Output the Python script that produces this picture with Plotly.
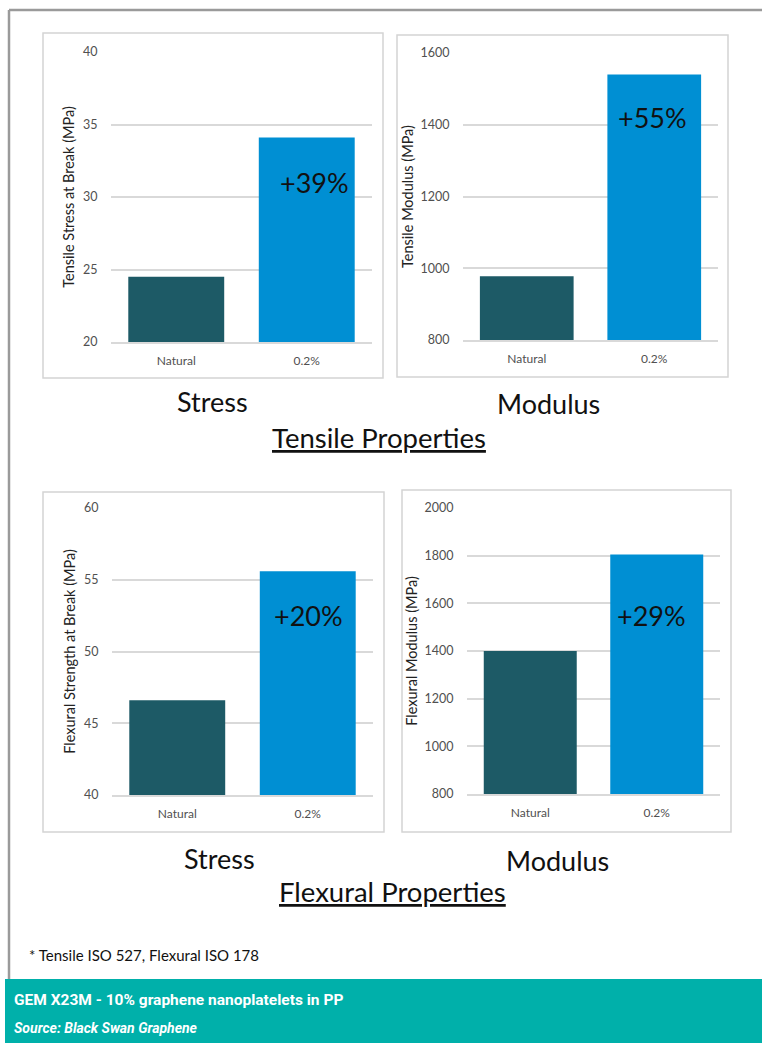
import plotly.graph_objects as go

W, H = 762, 1043

# ---- data ----
categories = ["Natural", "0.2%"]
tensile_stress = [24.5, 34.1]       # MPa
tensile_modulus = [978, 1540]       # MPa
flexural_strength = [46.6, 55.6]    # MPa
flexural_modulus = [1400, 1805]     # MPa
gain_labels = ["+39%", "+55%", "+20%", "+29%"]
gain_label_y = [31.0, 1421, 52.5, 1551]
y_titles = ["Tensile Stress at Break (MPa)", "Tensile Modulus (MPa)",
            "Flexural Strength at Break (MPa)", "Flexural Modulus (MPa)"]
y_ranges = [[20, 40], [800, 1600], [40, 60], [800, 2000]]
y_dticks = [5, 200, 5, 200]
panel_names = ["Stress", "Modulus", "Stress", "Modulus"]

DARK = "#1d5a66"
BLUE = "#008fd3"
TEAL = "#00b0aa"
GRID = "#d9d9d9"
FONT = "Lato, Open Sans, sans-serif"
FOOT = "Roboto, Lato, sans-serif"


def px(x):
    return x / W


def py(y):
    return 1 - y / H


# plot areas (left, right, top, bottom) in pixels
areas = [(111, 372, 52, 342), (463, 718, 53, 340),
         (112, 373, 508, 795), (467, 720, 508, 794)]
# panel frames (left, right, top, bottom)
frames = [(43, 383, 33, 378), (397, 728, 35, 377),
          (43, 384, 492, 832), (402, 731, 490, 832)]
name_pos = [(212, 401), (548, 403), (219, 858), (557, 860)]
label_xshift = [8, -2, 1, -5]
title_standoff = [4, 3, 4, 3]

series = [tensile_stress, tensile_modulus, flexural_strength, flexural_modulus]

fig = go.Figure()
layout = dict(width=W, height=H, autosize=False,
              margin=dict(l=0, r=0, t=0, b=0, pad=0),
              paper_bgcolor="white", plot_bgcolor="white", showlegend=False,
              bargap=0.265, shapes=[], annotations=[])

for i in range(4):
    xa = "x" if i == 0 else f"x{i+1}"
    ya = "y" if i == 0 else f"y{i+1}"
    fig.add_trace(go.Bar(x=categories, y=series[i], xaxis=xa, yaxis=ya,
                         marker=dict(color=[DARK, BLUE], line=dict(width=0)),
                         hoverinfo="skip"))
    l, r, t, b = areas[i]
    key = "" if i == 0 else str(i + 1)
    layout["xaxis" + key] = dict(
        domain=[px(l), px(r)], anchor=ya, automargin=False,
        showgrid=False, showline=True, linecolor=GRID, linewidth=1.5,
        ticks="outside", ticklen=7, tickcolor="rgba(0,0,0,0)",
        tickfont=dict(family=FONT, size=12, color="#505050"),
        fixedrange=True, range=[-0.5, 1.5])
    layout["yaxis" + key] = dict(
        domain=[py(b), py(t)], anchor=xa, automargin=False,
        range=y_ranges[i], dtick=y_dticks[i], tick0=y_ranges[i][0],
        showgrid=True, gridcolor=GRID, gridwidth=1.5, zeroline=False,
        showline=False, ticks="outside", ticklen=10, tickcolor="rgba(0,0,0,0)",
        tickfont=dict(family=FONT, size=12.5, color="#505050"),
        title=dict(text=y_titles[i], standoff=title_standoff[i],
                   font=dict(family=FONT, size=14.5, color="#222222")),
        fixedrange=True)
    # panel frame
    fl, fr, ft, fb = frames[i]
    layout["shapes"].append(dict(type="rect", xref="paper", yref="paper",
                                 x0=px(fl), x1=px(fr), y0=py(fb), y1=py(ft),
                                 line=dict(color="#d4d4d4", width=1.5)))
    # percentage gain label inside the 0.2% bar
    layout["annotations"].append(dict(
        x=1, y=gain_label_y[i], xref=xa, yref=ya, text=gain_labels[i],
        showarrow=False, xanchor="center", yanchor="middle",
        xshift=label_xshift[i],
        font=dict(family=FONT, size=27, color="#111111")))
    # panel caption
    nx, ny = name_pos[i]
    layout["annotations"].append(dict(
        x=px(nx), y=py(ny), xref="paper", yref="paper", text=panel_names[i],
        showarrow=False, xanchor="center", yanchor="middle",
        font=dict(family=FONT, size=27, color="#111111")))

# group headings
for text, cx, cy in [("<u>Tensile Properties</u>", 379, 437),
                     ("<u>Flexural Properties</u>", 392, 891)]:
    layout["annotations"].append(dict(
        x=px(cx), y=py(cy), xref="paper", yref="paper", text=text,
        showarrow=False, xanchor="center", yanchor="middle",
        font=dict(family=FONT, size=27.5, color="#111111")))

# footnote
layout["annotations"].append(dict(
    x=px(27), y=py(955), xref="paper", yref="paper",
    text="* Tensile ISO 527, Flexural ISO 178", showarrow=False,
    xanchor="left", yanchor="middle",
    font=dict(family=FONT, size=15, color="#111111")))

# outer grey frame
layout["shapes"].append(dict(type="line", xref="paper", yref="paper",
                             x0=px(9), x1=1, y0=py(10), y1=py(10),
                             line=dict(color="#9a9a9a", width=2.5)))
layout["shapes"].append(dict(type="line", xref="paper", yref="paper",
                             x0=px(9), x1=px(9), y0=py(979), y1=py(10),
                             line=dict(color="#9a9a9a", width=2.5)))

# caption band
layout["shapes"].append(dict(type="rect", xref="paper", yref="paper",
                             x0=px(5), x1=1, y0=0, y1=py(979),
                             fillcolor=TEAL, line=dict(width=0), layer="below"))
layout["annotations"].append(dict(
    x=px(12), y=py(1000), xref="paper", yref="paper",
    text="<b>GEM X23M - 10% graphene nanoplatelets in PP</b>", showarrow=False,
    xanchor="left", yanchor="middle",
    font=dict(family=FOOT, size=15.5, color="white")))
layout["annotations"].append(dict(
    x=px(12), y=py(1028), xref="paper", yref="paper",
    text="<b><i>Source: Black Swan Graphene</i></b>", showarrow=False,
    xanchor="left", yanchor="middle",
    font=dict(family=FOOT, size=14, color="white")))

fig.update_layout(**layout)
fig.write_html("out.html")
